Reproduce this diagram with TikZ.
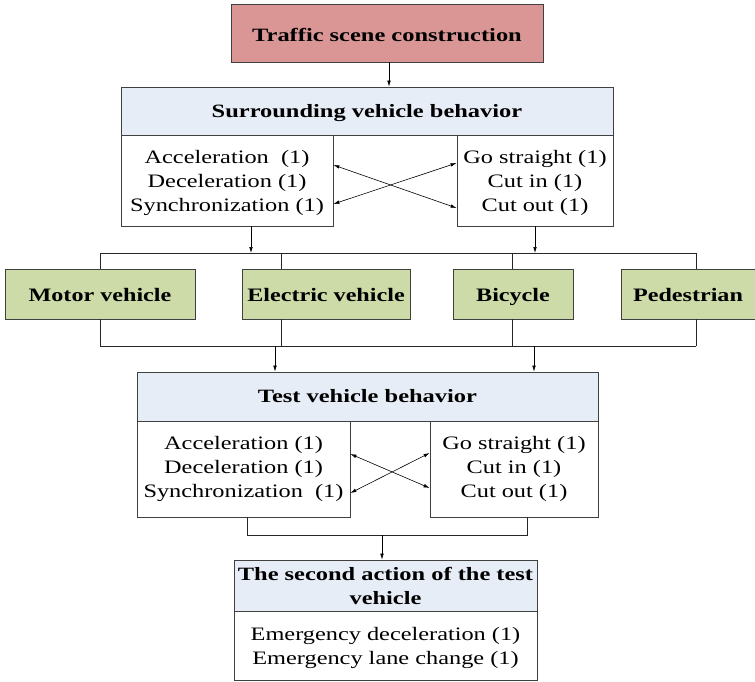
\documentclass[tikz,border=0pt]{standalone}
\usepackage{fontspec}
\setmainfont{Liberation Serif}
\newfontfamily\bodyf[FakeStretch=1.28]{Liberation Serif}
\newfontfamily\hdrf[FakeStretch=1.3]{Liberation Serif Bold}
\newfontfamily\grnf[FakeStretch=1.27]{Liberation Serif Bold}
\newcommand\tp{\rule{0pt}{17.2pt}}
\usetikzlibrary{arrows.meta,calc}
\definecolor{bord}{HTML}{404040}
\definecolor{redf}{HTML}{D99694}
\definecolor{bluef}{HTML}{E7EDF6}
\definecolor{greenf}{HTML}{CDDBA9}
\begin{document}
\begin{tikzpicture}[x=1pt,y=-1pt,
  box/.style={draw=bord, line width=0.8pt, inner sep=0pt, align=center, font=\fontsize{19}{24}\selectfont\bodyf},
  hdr/.style={box, fill=bluef, font=\fontsize{18.8}{24}\selectfont\hdrf},
  grn/.style={draw=bord, line width=0.8pt, inner sep=0pt, fill=greenf, text height=18pt, text depth=4pt, font=\fontsize{19}{24}\selectfont\grnf},
  arr/.style={-{Latex[length=6pt,width=3.6pt]}, line width=0.6pt},
  darr/.style={{Latex[length=6pt,width=3.6pt]}-{Latex[length=6pt,width=3.6pt]}, line width=0.6pt},
  ln/.style={line width=0.7pt, draw=black!85}]
\useasboundingbox (0,0) rectangle (755,681);

% top
\node[box, fill=redf, font=\fontsize{18.8}{24}\selectfont\hdrf, minimum width=312pt, minimum height=58pt] (top) at (387,33) {\tp Traffic scene construction};

% surrounding vehicle behavior
\node[hdr, minimum width=492pt, minimum height=48pt] (sh) at (367,111) {\tp Surrounding vehicle behavior};
\node[box, fill=white, minimum width=212pt, minimum height=91pt] (sl) at (227,180.5) {\tp Acceleration\ \ (1)\\Deceleration (1)\\Synchronization (1)};
\node[box, fill=white, minimum width=156pt, minimum height=91pt] (sr) at (535,180.5) {\tp Go straight (1)\\Cut in (1)\\Cut out (1)};

% participants
\node[grn, minimum width=190pt, minimum height=50pt] (mv) at (100,294) {Motor vehicle};
\node[grn, minimum width=168pt, minimum height=50pt] (ev) at (326,294) {Electric vehicle};
\node[grn, minimum width=120pt, minimum height=50pt] (bc) at (513,294) {Bicycle};
\node[grn, minimum width=134pt, minimum height=50pt] (pd) at (688,294) {Pedestrian};

% test vehicle behavior
\node[hdr, minimum width=461pt, minimum height=49pt] (th) at (367.5,396.5) {Test vehicle behavior};
\node[box, fill=white, minimum width=213pt, minimum height=96pt] (tl) at (243.5,469) {Acceleration (1)\\Deceleration (1)\\Synchronization\ \ (1)};
\node[box, fill=white, minimum width=168pt, minimum height=96pt] (tr) at (514,469) {Go straight (1)\\Cut in (1)\\Cut out (1)};

% second action
\node[hdr, minimum width=303pt, minimum height=51pt] (ah) at (385.5,585.5) {The second action of the test\\vehicle};
\node[box, fill=white, minimum width=303pt, minimum height=69pt] (ab) at (385.5,645.5) {\tp Emergency deceleration (1)\\Emergency lane change (1)};

% bus coordinates
\coordinate (u1) at (100,253);
\coordinate (u2) at (281,253);
\coordinate (u3) at (512,253);
\coordinate (u4) at (696,253);
\coordinate (ua) at (251,253);
\coordinate (l1) at (100,346);
\coordinate (l2) at (281,346);
\coordinate (l3) at (512,346);
\coordinate (l4) at (696,346);
\coordinate (la) at (275,346);
\coordinate (lb) at (534,346);
\coordinate (t1) at (247,535);
\coordinate (t2) at (527,535);
\coordinate (tc) at (382,535);
\coordinate (ta) at (389,62);

% connectors
\draw[arr] (ta) -- (ta |- sh.north);
\draw[darr] ([yshift=15.5pt]sl.east) -- ([yshift=-27.5pt]sr.west);
\draw[darr] ([yshift=-23.5pt]sl.east) -- ([yshift=17.5pt]sr.west);
\draw[arr] (ua |- sl.south) -- (ua);
\draw[arr] (sr.south) -- (sr.south |- u1);

\draw[ln] (u1) -- (u4);
\draw[ln] (u1) -- (mv.north);
\draw[ln] (u2) -- (u2 |- ev.north);
\draw[ln] (u3) -- (u3 |- bc.north);
\draw[ln] (u4) -- (u4 |- pd.north);

\draw[ln] (l1) -- (l4);
\draw[ln] (mv.south) -- (l1);
\draw[ln] (l2 |- ev.south) -- (l2);
\draw[ln] (l3 |- bc.south) -- (l3);
\draw[ln] (l4 |- pd.south) -- (l4);

\draw[arr] (la) -- (la |- th.north);
\draw[arr] (lb) -- (lb |- th.north);

\draw[darr] ([yshift=15pt]tl.east) -- ([yshift=-19pt]tr.west);
\draw[darr] ([yshift=-24pt]tl.east) -- ([yshift=16pt]tr.west);

\draw[ln] (t1 |- tl.south) -- (t1) -- (t2) -- (t2 |- tr.south);
\draw[arr] (tc) -- (tc |- ah.north);
\end{tikzpicture}
\end{document}
